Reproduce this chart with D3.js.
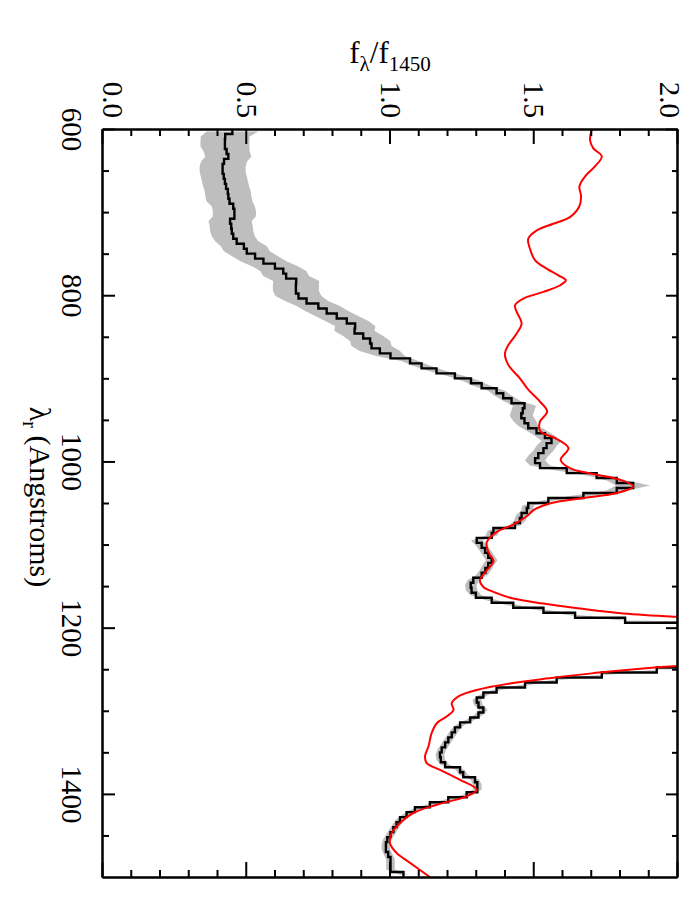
<!DOCTYPE html>
<html>
<head>
<meta charset="utf-8">
<script src="https://d3js.org/d3.v7.min.js"></script>
<style>
  body { margin: 0; background: #fff; }
  text { font-family: "Liberation Serif", "DejaVu Serif", serif; }
</style>
</head>
<body>
<svg width="692" height="911"></svg>
<script>
// composite spectrum, 6 A bins (left edges)
var binWave = [600,606,612,618,624,630,636,642,648,654,660,666,672,678,684,690,696,702,708,714,
  720,726,732,738,744,750,756,762,768,774,780,786,792,798,804,810,816,822,828,834,
  840,846,852,858,864,870,876,882,888,894,900,906,912,918,924,930,936,942,948,954,
  960,966,972,978,984,990,996,1002,1008,1014,1020,1026,1032,1038,1044,1050,1056,1062,1068,1074,
  1080,1086,1092,1098,1104,1110,1116,1122,1128,1134,1140,1146,1152,1158,1164,1170,1176,1182,1188,1194,
  1200,1206,1212,1218,1224,1230,1236,1242,1248,1254,1260,1266,1272,1278,1284,1290,1296,1302,1308,1314,
  1320,1326,1332,1338,1344,1350,1356,1362,1368,1374,1380,1386,1392,1398,1404,1410,1416,1422,1428,1434,
  1440,1446,1452,1458,1464,1470,1476,1482,1488,1494];
var binEnd = 1500;

var binFlux = [0.450,0.425,0.424,0.424,0.430,0.436,0.421,0.416,0.416,0.420,0.424,0.428,0.434,0.436,0.440,0.453,0.457,0.457,0.442,0.446,
  0.448,0.453,0.465,0.490,0.500,0.529,0.558,0.598,0.627,0.637,0.672,0.671,0.671,0.680,0.708,0.749,0.778,0.813,0.848,0.877,
  0.875,0.905,0.929,0.934,0.963,1.000,1.068,1.108,1.160,1.224,1.280,1.317,1.369,1.392,1.421,1.466,1.460,1.455,1.466,1.479,
  1.508,1.537,1.560,1.543,1.532,1.514,1.503,1.520,1.613,1.717,1.787,1.844,1.787,1.671,1.549,1.479,1.474,1.456,1.450,1.433,
  1.358,1.352,1.300,1.317,1.329,1.340,1.352,1.340,1.330,1.317,1.288,1.279,1.282,1.297,1.352,1.427,1.532,1.642,1.816,2.400,
  3.000,3.600,4.000,3.900,3.400,2.900,2.500,2.200,1.926,1.735,1.578,1.468,1.369,1.323,1.300,1.306,1.323,1.306,1.277,1.242,
  1.224,1.213,1.201,1.190,1.178,1.172,1.175,1.190,1.242,1.253,1.294,1.302,1.302,1.265,1.201,1.137,1.085,1.056,1.033,1.021,
  1.010,1.000,0.989,0.984,0.984,0.992,1.000,1.000,1.000,1.045];

var binErr = [0.090,0.085,0.085,0.085,0.080,0.080,0.080,0.080,0.080,0.080,0.080,0.080,0.080,0.080,0.080,0.075,0.075,0.075,0.075,0.075,
  0.075,0.075,0.075,0.080,0.080,0.080,0.080,0.080,0.080,0.080,0.080,0.080,0.080,0.080,0.075,0.075,0.075,0.075,0.075,0.070,
  0.070,0.070,0.070,0.070,0.070,0.050,0.030,0.030,0.030,0.030,0.030,0.030,0.030,0.030,0.030,0.040,0.040,0.040,0.040,0.035,
  0.035,0.035,0.035,0.035,0.035,0.035,0.035,0.035,0.035,0.035,0.035,0.060,0.035,0.035,0.020,0.020,0.020,0.020,0.020,0.020,
  0.020,0.020,0.020,0.020,0.020,0.020,0.020,0.020,0.020,0.020,0.020,0.020,0.020,0.020,0.020,0.020,0.020,0.020,0.020,0.020,
  0.020,0.020,0.020,0.020,0.020,0.020,0.020,0.020,0.015,0.015,0.015,0.015,0.015,0.015,0.015,0.015,0.015,0.015,0.015,0.015,
  0.015,0.015,0.015,0.015,0.015,0.015,0.015,0.015,0.015,0.015,0.015,0.015,0.015,0.015,0.015,0.015,0.015,0.015,0.015,0.015,
  0.015,0.015,0.015,0.015,0.015,0.015,0.015,0.015,0.015,0.015];

// red model curve
var modelWave = [601,613,623,633,645,657,669,681,693,706,714,722,732,744,758,768,776,782,788,796,
  804,812,820,834,846,860,870,884,900,914,928,940,952,963,973,984,998,1008,1016,1022,
  1030,1038,1044,1050,1058,1066,1076,1085,1097,1109,1120,1131,1143,1151,1157,1165,1171,1177,1183,1187,
  1195,1210,1222,1235,1246,1255,1261,1267,1275,1283,1291,1299,1307,1315,1327,1343,1355,1363,1371,1383,
  1395,1403,1413,1423,1435,1447,1459,1471,1483,1500];
var modelFlux = [1.700,1.694,1.705,1.735,1.711,1.677,1.657,1.663,1.657,1.624,1.566,1.509,1.479,1.485,1.503,1.543,1.584,1.610,1.590,1.532,
  1.462,1.433,1.439,1.456,1.439,1.410,1.398,1.410,1.450,1.480,1.520,1.545,1.520,1.520,1.578,1.619,1.592,1.624,1.717,1.798,
  1.845,1.787,1.671,1.560,1.500,1.474,1.427,1.369,1.335,1.340,1.358,1.335,1.311,1.323,1.358,1.427,1.532,1.659,1.810,2.000,
  2.600,3.400,3.500,3.000,2.000,1.700,1.550,1.420,1.300,1.235,1.213,1.219,1.195,1.161,1.143,1.132,1.120,1.126,1.172,1.242,
  1.300,1.265,1.161,1.079,1.033,1.004,0.998,1.021,1.068,1.137];

var waveTicks = [600, 800, 1000, 1200, 1400];
var waveMinor = [650,700,750,850,900,950,1050,1100,1150,1250,1300,1350,1450];
var fluxTicks = [0, 0.5, 1.0, 1.5, 2.0];
var fluxTickLabels = ["0.0", "0.5", "1.0", "1.5", "2.0"];
var fluxMinor = [0.1,0.2,0.3,0.4,0.6,0.7,0.8,0.9,1.1,1.2,1.3,1.4,1.6,1.7,1.8,1.9];

var W = 748, H = 575;   // plot drawn unrotated, then turned 90 degrees
var svg = d3.select('svg');
svg.append('rect').attr('width', 692).attr('height', 911).attr('fill', 'white');

var g = svg.append('g').attr('transform', 'translate(678,129) rotate(90)');

var x = d3.scaleLinear().domain([600, 1500]).range([0, W]);
var y = d3.scaleLinear().domain([0, 2]).range([H, 0]);

g.append('clipPath').attr('id', 'clip')
  .append('rect').attr('width', W).attr('height', H);

var data = g.append('g').attr('clip-path', 'url(#clip)');

var bins = binWave.map(function(w, i) { return {w: w, f: binFlux[i], e: binErr[i]}; });

// error band through bin centres
var band = d3.area()
  .x(function(d) { return x(d.w + 3); })
  .y0(function(d) { return y(d.f - d.e); })
  .y1(function(d) { return y(d.f + d.e); });
data.append('path').datum(bins)
  .attr('d', band)
  .attr('fill', '#bebebe');

// histogram line
var steps = bins.concat([{w: binEnd, f: binFlux[binFlux.length - 1]}]);
var stepLine = d3.line()
  .x(function(d) { return x(d.w); })
  .y(function(d) { return y(d.f); })
  .curve(d3.curveStepAfter);
data.append('path').datum(steps)
  .attr('d', stepLine)
  .attr('fill', 'none')
  .attr('stroke', 'black')
  .attr('stroke-width', 2.4);

var model = modelWave.map(function(w, i) { return {w: w, f: modelFlux[i]}; });
var modelLine = d3.line()
  .x(function(d) { return x(d.w); })
  .y(function(d) { return y(d.f); })
  .curve(d3.curveCatmullRom.alpha(0.5));
data.append('path').datum(model)
  .attr('d', modelLine)
  .attr('fill', 'none')
  .attr('stroke', '#ff0000')
  .attr('stroke-width', 2);

// axes, ticks pointing inward
function styleAxis(sel) {
  sel.selectAll('path, line').attr('stroke', 'black').attr('stroke-width', 2);
  sel.selectAll('text').attr('font-family', '"Liberation Serif", serif').attr('font-size', 29).attr('fill', 'black');
}

g.append('g').attr('transform', 'translate(0,' + H + ')')
  .call(d3.axisBottom(x).tickValues(waveTicks).tickSize(-12).tickSizeOuter(0).tickPadding(20).tickFormat(d3.format('d')))
  .call(styleAxis);
g.append('g').attr('transform', 'translate(0,' + H + ')')
  .call(d3.axisBottom(x).tickValues(waveMinor).tickSize(-6).tickSizeOuter(0).tickFormat(''))
  .call(styleAxis);
g.append('g')
  .call(d3.axisTop(x).tickValues(waveTicks).tickSize(-12).tickSizeOuter(0).tickFormat(''))
  .call(styleAxis);
g.append('g')
  .call(d3.axisTop(x).tickValues(waveMinor).tickSize(-6).tickSizeOuter(0).tickFormat(''))
  .call(styleAxis);

var leftAxis = g.append('g')
  .call(d3.axisLeft(y).tickValues(fluxTicks).tickSize(-15).tickSizeOuter(0).tickPadding(11)
    .tickFormat(function(d, i) { return fluxTickLabels[i]; }))
  .call(styleAxis);
leftAxis.selectAll('.tick text')
  .attr('dy', function(d) { return d === 0 ? '-0.0em' : (d === 2 ? '0.62em' : '0.32em'); });
g.append('g')
  .call(d3.axisLeft(y).tickValues(fluxMinor).tickSize(-7).tickSizeOuter(0).tickFormat(''))
  .call(styleAxis);
g.append('g').attr('transform', 'translate(' + W + ',0)')
  .call(d3.axisRight(y).tickValues(fluxTicks).tickSize(-15).tickSizeOuter(0).tickFormat(''))
  .call(styleAxis);
g.append('g').attr('transform', 'translate(' + W + ',0)')
  .call(d3.axisRight(y).tickValues(fluxMinor).tickSize(-7).tickSizeOuter(0).tickFormat(''))
  .call(styleAxis);

// x title (reads down the left side)
var xt = g.append('text')
  .attr('x', 368).attr('y', 648)
  .attr('text-anchor', 'middle')
  .attr('font-size', 30);
xt.append('tspan').text('λ');
xt.append('tspan').attr('font-size', 20).attr('dy', 7).text('r');
xt.append('tspan').attr('dy', -7).text(' (Angstroms)');

// y title, horizontal above the plot
var yt = svg.append('text')
  .attr('x', 390).attr('y', 63)
  .attr('text-anchor', 'middle')
  .attr('font-size', 31);
yt.append('tspan').text('f');
yt.append('tspan').attr('font-size', 21).attr('dy', 8).text('λ');
yt.append('tspan').attr('dy', -8).text('/f');
yt.append('tspan').attr('font-size', 21).attr('dy', 8).text('1450');
</script>
</body>
</html>
